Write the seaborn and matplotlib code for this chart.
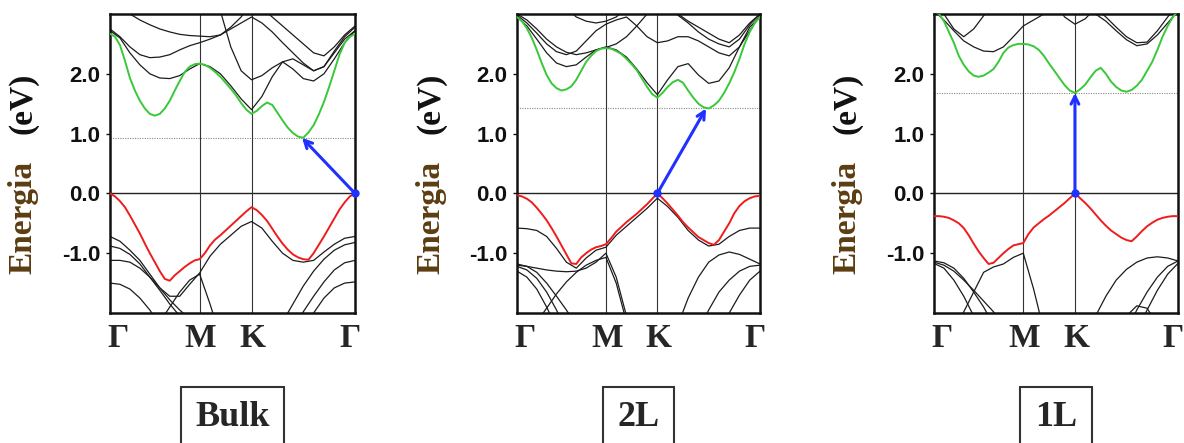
import numpy as np
import pandas as pd
import matplotlib
matplotlib.use("Agg")
import matplotlib.pyplot as plt
import seaborn as sns
from matplotlib.transforms import blended_transform_factory, offset_copy

# high-symmetry points along the path G-M-K-G
kpts = [0.0, 0.577, 0.911, 1.577]
klabels = ["Γ", "M", "K", "Γ"]
# coarse sampling for the black bands: 10 points on G-M, 5 on M-K, 10 on K-G
kgrid = np.concatenate([np.linspace(kpts[0], kpts[1], 10),
                        np.linspace(kpts[1], kpts[2], 6)[1:],
                        np.linspace(kpts[2], kpts[3], 11)[1:]])
# finer sampling for the highlighted VB / CB: 19 + 10 + 20 points
kfine = np.concatenate([np.linspace(kpts[0], kpts[1], 19),
                        np.linspace(kpts[1], kpts[2], 11)[1:],
                        np.linspace(kpts[2], kpts[3], 21)[1:]])

panels = ["Bulk", "2L", "1L"]

# ---- Bulk ----
bulk_red = [0.00, -0.05, -0.13, -0.23, -0.37, -0.52, -0.67, -0.84, -1.00, -1.15,
            -1.30, -1.43, -1.46, -1.37, -1.30, -1.23, -1.17, -1.12, -1.10,
            -1.00, -0.87, -0.77, -0.70, -0.62, -0.54, -0.46, -0.38, -0.30, -0.23,
            -0.28, -0.36, -0.46, -0.59, -0.72, -0.84, -0.94, -1.02, -1.07, -1.10,
            -1.11, -1.00, -0.86, -0.72, -0.57, -0.42, -0.27, -0.15, -0.05, 0.00]
bulk_green = [2.67, 2.62, 2.48, 2.22, 1.93, 1.72, 1.55, 1.42, 1.33, 1.30,
              1.33, 1.42, 1.55, 1.72, 1.88, 2.03, 2.12, 2.16, 2.17,
              2.15, 2.10, 2.03, 1.95, 1.85, 1.75, 1.64, 1.51, 1.40, 1.33,
              1.38, 1.46, 1.52, 1.48, 1.35, 1.22, 1.10, 1.01, 0.95, 0.93,
              1.02, 1.14, 1.32, 1.53, 1.78, 2.05, 2.32, 2.52, 2.62, 2.67]
bulk_black = [
    [-0.72, -0.80, -0.95, -1.12, -1.35, -1.58, -1.72, -1.72, -1.52, -1.33, -1.05, -0.85, -0.70, -0.55, -0.47,
     -0.58, -0.80, -1.00, -1.12, -1.15, -1.12, -0.98, -0.85, -0.75, -0.72],
    [-0.88, -0.92, -1.02, -1.18, -1.40, -1.62, -1.85, -2.05, -2.25, -2.40, -2.6, -2.6, -2.6, -2.6, -2.6,
     -2.6, -2.45, -2.15, -1.85, -1.55, -1.30, -1.10, -0.95, -0.86, -0.82],
    [-1.12, -1.12, -1.15, -1.25, -1.40, -1.58, -1.78, -1.95, -2.10, -2.30, -2.6, -2.6, -2.6, -2.6, -2.6,
     -2.6, -2.6, -2.6, -2.25, -1.98, -1.72, -1.48, -1.28, -1.16, -1.12],
    [-1.50, -1.52, -1.60, -1.75, -1.95, -2.20, -2.45, -2.6, -2.6, -2.6, -2.6, -2.6, -2.6, -2.6, -2.6,
     -2.6, -2.6, -2.6, -2.6, -2.30, -2.00, -1.75, -1.58, -1.50, -1.48],
    [-2.6, -2.6, -2.6, -2.6, -2.40, -2.15, -1.90, -1.65, -1.45, -1.35, -1.85, -2.40, -2.6, -2.6, -2.6,
     -2.6, -2.6, -2.6, -2.6, -2.6, -2.6, -2.6, -2.6, -2.6, -2.6],
    [2.72, 2.60, 2.35, 2.15, 2.00, 1.93, 1.92, 1.97, 2.08, 2.17, 2.12, 2.00, 1.80, 1.58, 1.40,
     1.62, 1.95, 2.20, 2.25, 2.15, 2.05, 2.12, 2.35, 2.58, 2.72],
    [3.3, 3.3, 3.3, 3.3, 3.3, 3.3, 3.3, 3.3, 3.3, 3.3, 3.3, 3.05, 2.45, 2.05, 1.90,
     1.97, 2.10, 2.20, 2.08, 1.92, 1.88, 2.00, 2.25, 2.52, 2.72],
    [2.75, 2.62, 2.45, 2.32, 2.27, 2.28, 2.32, 2.40, 2.47, 2.52, 2.58, 2.65, 2.78, 2.95, 3.20,
     3.10, 2.95, 2.80, 2.65, 2.50, 2.35, 2.30, 2.45, 2.65, 2.80],
    [3.3, 3.15, 3.00, 2.90, 2.82, 2.75, 2.70, 2.66, 2.64, 2.63, 2.62, 2.65, 2.75, 2.85, 2.95,
     2.85, 2.70, 2.52, 2.35, 2.18, 2.05, 2.12, 2.38, 2.62, 2.78],
]

# ---- 2L ----
tl_red = [-0.03, -0.05, -0.09, -0.15, -0.24, -0.34, -0.45, -0.58, -0.72, -0.87,
          -1.02, -1.17, -1.18, -1.07, -1.00, -0.94, -0.90, -0.88, -0.85,
          -0.75, -0.64, -0.56, -0.48, -0.41, -0.34, -0.26, -0.18, -0.09, 0.00,
          -0.08, -0.17, -0.27, -0.37, -0.48, -0.57, -0.65, -0.73, -0.78, -0.83,
          -0.86, -0.78, -0.64, -0.50, -0.33, -0.21, -0.13, -0.08, -0.05, -0.04]
tl_green = [2.95, 2.88, 2.76, 2.60, 2.40, 2.18, 1.98, 1.84, 1.76, 1.72,
            1.74, 1.79, 1.90, 2.05, 2.20, 2.30, 2.38, 2.42, 2.43,
            2.42, 2.38, 2.33, 2.25, 2.16, 2.06, 1.92, 1.78, 1.66, 1.60,
            1.68, 1.78, 1.86, 1.90, 1.85, 1.72, 1.60, 1.50, 1.44, 1.42,
            1.47, 1.55, 1.68, 1.84, 2.03, 2.25, 2.50, 2.70, 2.85, 2.95]
tl_black = [
    [-0.58, -0.59, -0.62, -0.72, -0.92, -1.15, -1.25, -1.08, -0.95, -0.90, -0.70, -0.55, -0.40, -0.25, -0.08,
     -0.22, -0.40, -0.62, -0.78, -0.88, -0.85, -0.72, -0.62, -0.58, -0.58],
    [-2.6, -2.4, -2.15, -1.92, -1.68, -1.48, -1.32, -1.20, -1.12, -1.07, -1.50, -2.15, -2.6, -2.6, -2.6,
     -2.6, -2.6, -2.6, -2.6, -2.6, -2.6, -2.6, -2.6, -2.6, -2.6],
    [-1.20, -1.22, -1.25, -1.28, -1.30, -1.31, -1.30, -1.25, -1.15, -1.00, -1.40, -2.05, -2.6, -2.6, -2.6,
     -2.6, -2.6, -2.6, -2.6, -2.6, -2.6, -2.6, -2.6, -2.6, -2.6],
    [-1.18, -1.22, -1.32, -1.50, -1.72, -1.95, -2.20, -2.45, -2.6, -2.6, -2.6, -2.6, -2.6, -2.6, -2.6,
     -2.6, -2.6, -2.6, -2.30, -1.95, -1.65, -1.45, -1.30, -1.22, -1.20],
    [-1.22, -1.28, -1.42, -1.65, -1.95, -2.30, -2.6, -2.6, -2.6, -2.6, -2.6, -2.6, -2.6, -2.6, -2.6,
     -2.6, -2.20, -1.75, -1.40, -1.15, -1.03, -0.98, -1.02, -1.10, -1.18],
    [-1.30, -1.40, -1.60, -1.90, -2.25, -2.6, -2.6, -2.6, -2.6, -2.6, -2.6, -2.6, -2.6, -2.6, -2.6,
     -2.6, -2.6, -2.6, -2.6, -2.6, -2.40, -2.00, -1.70, -1.45, -1.30],
    [2.95, 2.80, 2.58, 2.35, 2.18, 2.12, 2.15, 2.28, 2.40, 2.45, 2.40, 2.28, 2.08, 1.85, 1.65,
     1.90, 2.12, 2.17, 1.98, 1.84, 1.88, 2.10, 2.45, 2.78, 2.95],
    [2.98, 2.85, 2.68, 2.50, 2.37, 2.32, 2.38, 2.55, 2.72, 2.83, 2.90, 2.95, 2.80, 2.62, 2.52,
     2.55, 2.62, 2.62, 2.55, 2.45, 2.35, 2.30, 2.45, 2.72, 2.98],
    [3.00, 2.90, 2.75, 2.58, 2.45, 2.36, 2.32, 2.35, 2.40, 2.44, 2.50, 2.62, 2.80, 3.00, 3.15,
     3.10, 2.98, 2.85, 2.70, 2.58, 2.50, 2.45, 2.58, 2.82, 3.00],
    [3.3, 3.3, 3.3, 3.3, 3.3, 3.10, 2.95, 2.88, 2.85, 2.88, 2.95, 3.10, 3.3, 3.3, 3.3,
     3.20, 3.00, 2.88, 2.78, 2.68, 2.58, 2.52, 2.65, 2.85, 3.00],
]

# ---- 1L ----
ol_red = [-0.38, -0.38, -0.39, -0.41, -0.45, -0.50, -0.58, -0.70, -0.84, -0.97,
          -1.08, -1.18, -1.16, -1.08, -1.00, -0.93, -0.87, -0.85, -0.83,
          -0.68, -0.57, -0.50, -0.43, -0.37, -0.30, -0.23, -0.16, -0.08, 0.00,
          -0.08, -0.16, -0.25, -0.35, -0.45, -0.54, -0.62, -0.68, -0.74, -0.78,
          -0.80, -0.72, -0.63, -0.55, -0.49, -0.44, -0.41, -0.39, -0.38, -0.38]
ol_green = [3.05, 3.00, 2.88, 2.70, 2.52, 2.30, 2.15, 2.04, 1.97, 1.95,
            1.97, 2.02, 2.08, 2.20, 2.35, 2.44, 2.48, 2.50, 2.50,
            2.49, 2.46, 2.40, 2.30, 2.17, 2.05, 1.93, 1.81, 1.72, 1.68,
            1.74, 1.82, 1.94, 2.05, 2.10, 2.00, 1.87, 1.78, 1.72, 1.70,
            1.73, 1.80, 1.90, 2.05, 2.20, 2.40, 2.62, 2.80, 2.95, 3.05]
ol_black = [
    [-2.8, -2.6, -2.3, -1.98, -1.65, -1.32, -1.23, -1.18, -1.07, -1.00, -1.60, -2.30, -2.8, -2.8, -2.8,
     -2.8, -2.05, -1.72, -1.45, -1.27, -1.15, -1.08, -1.06, -1.08, -1.13],
    [-1.13, -1.16, -1.25, -1.42, -1.65, -1.90, -2.20, -2.50, -2.8, -2.8, -2.8, -2.8, -2.8, -2.8, -2.8,
     -2.8, -2.8, -2.8, -2.6, -2.3, -1.95, -1.65, -1.40, -1.22, -1.13],
    [-1.17, -1.25, -1.45, -1.72, -2.05, -2.40, -2.8, -2.8, -2.8, -2.8, -2.8, -2.8, -2.8, -2.8, -2.8,
     -2.8, -2.8, -2.8, -2.8, -2.8, -2.30, -1.95, -1.62, -1.35, -1.17],
    [-1.15, -1.20, -1.30, -1.45, -1.62, -1.80, -1.98, -2.20, -2.50, -2.8, -2.8, -2.8, -2.8, -2.8, -2.8,
     -2.8, -2.8, -2.8, -2.8, -2.05, -1.88, -1.92, -2.20, -2.60, -2.8],
    [3.05, 2.90, 2.72, 2.55, 2.45, 2.38, 2.37, 2.45, 2.62, 2.80, 2.90, 3.00, 3.20, 3.3, 3.3,
     3.20, 3.00, 2.88, 2.72, 2.57, 2.47, 2.50, 2.65, 2.85, 3.05],
    [3.3, 3.00, 2.75, 2.62, 2.75, 2.97, 3.20, 3.3, 3.3, 3.3, 3.3, 3.3, 3.20, 2.95, 2.83,
     2.92, 3.10, 3.3, 3.3, 3.3, 3.3, 3.3, 3.3, 3.3, 3.3],
    [3.3, 3.3, 3.3, 3.3, 3.3, 3.3, 3.3, 3.3, 3.3, 3.3, 3.3, 3.3, 3.3, 3.3, 3.3,
     3.3, 3.10, 2.95, 2.78, 2.62, 2.52, 2.53, 2.72, 2.95, 3.15],
]

# band-gap transitions (VBM -> CBM)
gap_start_k = [1.577, 0.911, 0.911]
gap_start_E = [0.0, 0.0, 0.0]
gap_end_k = [1.236, 1.227, 0.911]
gap_end_E = [0.93, 1.42, 1.68]

reds = [bulk_red, tl_red, ol_red]
greens = [bulk_green, tl_green, ol_green]
blacks = [bulk_black, tl_black, ol_black]

sns.set_style("white")
plt.rcParams["font.family"] = ["Liberation Serif", "DejaVu Serif"]

fig = plt.figure(figsize=(11.84, 4.43), dpi=100)
lefts = [110 / 1184, 517 / 1184, 934 / 1184]
widths = [245 / 1184, 243 / 1184, 244 / 1184]
bottom, height = 1 - 313 / 443, 299 / 443
lab_dx = [8, 1, 1, -5]

blue = "#1f30ff"

for i, name in enumerate(panels):
    ax = fig.add_axes([lefts[i], bottom, widths[i], height])

    ax.axhline(0, color="#222222", lw=1.0, zorder=1)
    ax.axhline(gap_end_E[i], color="#888888", lw=0.8, ls=(0, (1, 1.2)), zorder=1)
    for kv in kpts[1:3]:
        ax.axvline(kv, color="#333333", lw=0.8, zorder=1)

    frames = [pd.DataFrame({"k": kgrid, "E": e, "band": j}) for j, e in enumerate(blacks[i])]
    df = pd.concat(frames, ignore_index=True)
    sns.lineplot(data=df, x="k", y="E", units="band", estimator=None, sort=False,
                 color="#1c1c1c", lw=0.9, ax=ax, legend=False, zorder=2)
    sns.lineplot(x=kfine, y=reds[i], estimator=None, sort=False, color="#ee1c1c", lw=1.4, ax=ax, zorder=3)
    sns.lineplot(x=kfine, y=greens[i], estimator=None, sort=False, color="#38c838", lw=1.4, ax=ax, zorder=3)

    ax.annotate("", xy=(gap_end_k[i], gap_end_E[i]), xytext=(gap_start_k[i], gap_start_E[i]),
                arrowprops=dict(arrowstyle="->", color=blue, lw=2.2, mutation_scale=14,
                                shrinkA=0, shrinkB=0), zorder=5)
    ax.plot(gap_start_k[i], gap_start_E[i], "o", color=blue, ms=5, zorder=6, clip_on=False)

    ax.set_xlim(kpts[0], kpts[-1])
    ax.set_ylim(-2, 3)
    ax.set_xlabel("")
    ax.set_ylabel("")
    ax.set_xticks([])
    ax.set_yticks([-1, 0, 1, 2])
    ax.set_yticklabels(["-1.0", "0.0", "1.0", "2.0"], fontfamily="Liberation Sans",
                       fontweight="bold", fontsize=16)
    ax.tick_params(axis="y", direction="out", left=True, length=3, width=1, pad=4, colors="#111111")
    for sp in ax.spines.values():
        sp.set_linewidth(1.8)
        sp.set_color("#111111")

    trans = blended_transform_factory(ax.transData, ax.transAxes)
    for kv, lab, dx in zip(kpts, klabels, lab_dx):
        ax.text(kv, -0.085, lab, transform=offset_copy(trans, fig=fig, x=dx, y=0, units="dots"),
                ha="center", va="center", fontsize=24, fontweight="bold")

    ax.text(-0.355, 0.32, "Energia", transform=ax.transAxes, rotation=90, ha="center", va="center",
            fontsize=24, fontweight="bold", color="#5c3d12")
    ax.text(-0.355, 0.70, "(eV)", transform=ax.transAxes, rotation=90, ha="center", va="center",
            fontsize=24, fontweight="bold", color="#111111")

    cx = lefts[i] + widths[i] / 2
    fig.text(cx, 1 - 418 / 443, name, ha="center", va="center", fontsize=26, fontweight="bold",
             bbox=dict(boxstyle="square,pad=0.4", fc="white", ec="#333333", lw=1.5))

fig.savefig("out.png", dpi=100)
